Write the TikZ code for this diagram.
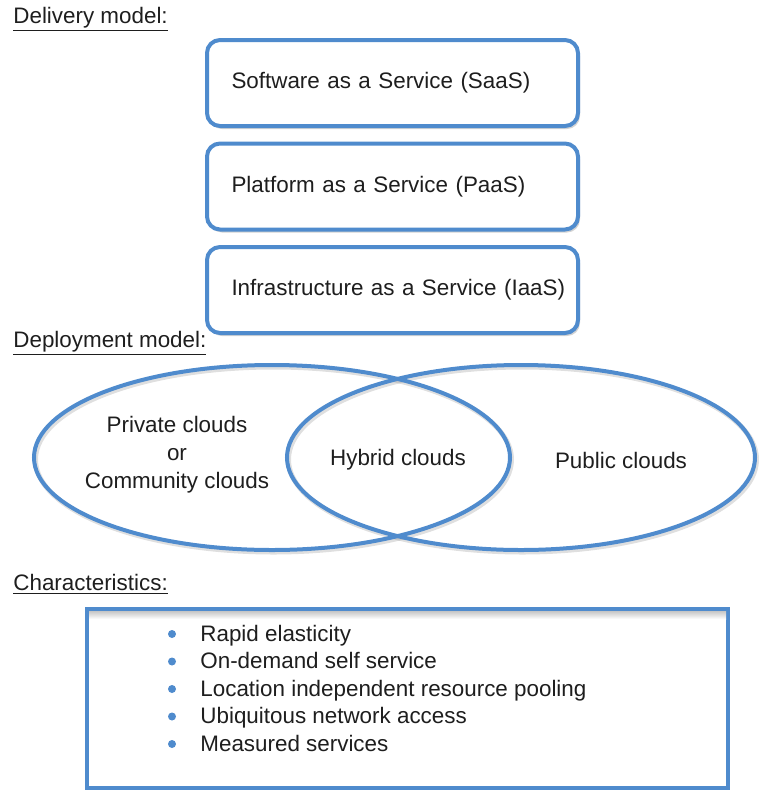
\documentclass[tikz,border=0pt]{standalone}
\usepackage{fontspec}
\setmainfont{Liberation Sans}
\usetikzlibrary{positioning,shadows}
\definecolor{cloudblue}{RGB}{79,139,205}
\definecolor{inkgray}{RGB}{30,30,30}
\tikzset{
  service/.style={draw=cloudblue, line width=2pt, rounded corners=6.5pt, fill=white,
    minimum width=185.5pt, minimum height=43pt, text width=161pt, inner xsep=0pt,
    align=left, drop shadow={opacity=0.35, shadow xshift=1pt, shadow yshift=-1.5pt}},
  heading/.style={anchor=base west, inner sep=0pt},
  cloud/.style={draw=cloudblue, line width=2pt},
  cloudshade/.style={draw=gray, line width=2.5pt, opacity=0.25},
  listbox/.style={draw=cloudblue, line width=2pt, fill=white,
    minimum width=320.5pt, minimum height=89.5pt,
    drop shadow={opacity=0.25, shadow xshift=1pt, shadow yshift=-1pt}},
}
\begin{document}
\begin{tikzpicture}[x=0.5pt, y=-0.5pt, font=\fontsize{11.2}{14}\selectfont, text=inkgray]
\useasboundingbox (0,0) rectangle (759,794);

% delivery model
\node[heading] (delivery) at (13,23) {\underline{Delivery model:}};
\node[service] (saas) at (392.5,83) {\mbox{Software as a Service (SaaS)}};
\node[service, below=6.75pt of saas] (paas) {\mbox{Platform as a Service (PaaS)}};
\node[service, below=6.75pt of paas] (iaas) {\mbox{Infrastructure as a Service (IaaS)}};

% deployment model
\node[heading] (deployment) at (13,347) {\underline{Deployment model:}};
\draw[cloudshade] (273.5,459.5) ellipse[x radius=119pt, y radius=46.25pt];
\draw[cloudshade] (522.5,459.5) ellipse[x radius=117pt, y radius=46.25pt];
\draw[cloud] (272,457.5) ellipse[x radius=119pt, y radius=46.25pt];
\draw[cloud] (521,457.5) ellipse[x radius=117pt, y radius=46.25pt];
\node[align=center] (private) at (177,455) {Private clouds\\or\\Community clouds};
\node (hybrid) at (398,460) {Hybrid clouds};
\node (public) at (621,460) {Public clouds};

% characteristics
\node[heading] (characteristics) at (13,590) {\underline{Characteristics:}};
\node[listbox] (charbox) at (407.5,698.5) {};
\shade[top color=gray!45, bottom color=white]
  ([xshift=2pt,yshift=-2pt]charbox.north west) rectangle ([xshift=-2pt,yshift=-6pt]charbox.north east);
\foreach \txt [count=\i] in {Rapid elasticity, On-demand self service,
    Location independent resource pooling, Ubiquitous network access,
    Measured services}{
  \node[anchor=base west, inner sep=0pt] (item\i) at (200,{613.5+27.5*\i}) {\txt};
  \fill[cloudblue] (item\i.base west) ++(-28,-7) circle (2pt);
}
\end{tikzpicture}
\end{document}
